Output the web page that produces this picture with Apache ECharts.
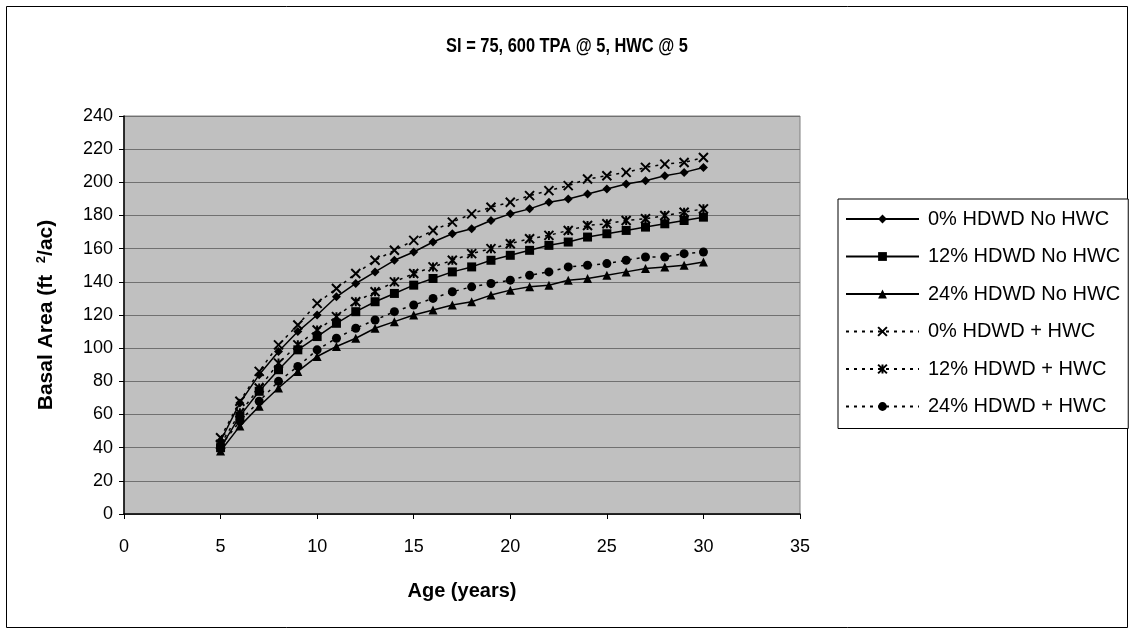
<!DOCTYPE html>
<html>
<head>
<meta charset="utf-8">
<script src="https://cdn.jsdelivr.net/npm/echarts@6/dist/echarts.min.js"></script>
<style>
  html, body { margin: 0; padding: 0; background: #fff; }
  #chart { width: 1135px; height: 635px; }
</style>
</head>
<body>
<div id="chart"></div>
<script>
// Stand age in years
const ages = [5, 6, 7, 8, 9, 10, 11, 12, 13, 14, 15, 16, 17, 18, 19, 20, 21, 22, 23, 24, 25, 26, 27, 28, 29, 30];

// Basal area (ft2/ac) for each hardwood / herbaceous weed control scenario
const hd0NoHwc  = [44, 67, 84, 98, 110, 120, 131, 139, 146, 153, 158, 164, 169, 172, 177, 181, 184, 188, 190, 193, 196, 199, 201, 204, 206, 209];
const hd12NoHwc = [40, 59, 74, 87, 99, 107, 115, 122, 128, 133, 138, 142, 146, 149, 153, 156, 159, 162, 164, 167, 169, 171, 173, 175, 177, 179];
const hd24NoHwc = [38, 53, 65, 76, 86, 95, 101, 106, 112, 116, 120, 123, 126, 128, 132, 135, 137, 138, 141, 142, 144, 146, 148, 149, 150, 152];
const hd0Hwc    = [46, 68, 86, 102, 114, 127, 136, 145, 153, 159, 165, 171, 176, 181, 185, 188, 192, 195, 198, 202, 204, 206, 209, 211, 212, 215];
const hd12Hwc   = [42, 61, 76, 91, 102, 111, 119, 128, 134, 140, 145, 149, 153, 157, 160, 163, 166, 168, 171, 174, 175, 177, 178, 180, 182, 184];
const hd24Hwc   = [41, 56, 68, 80, 89, 99, 106, 112, 117, 122, 126, 130, 134, 137, 139, 141, 144, 146, 149, 150, 151, 153, 155, 155, 157, 158];

const seriesNames = [
  '0% HDWD No HWC', '12% HDWD No HWC', '24% HDWD No HWC',
  '0% HDWD + HWC', '12% HDWD + HWC', '24% HDWD + HWC'
];

const titleText = 'SI = 75, 600 TPA @ 5, HWC @ 5';
const xTitle = 'Age (years)';

const FONT = '"Liberation Sans", Arial, sans-serif';

const crossPath = 'path://M0,0 L10,10 M10,0 L0,10';
const starPath = 'path://M0,0 L10,10 M10,0 L0,10 M5,0 L5,10';

function pairs(vals) {
  return ages.map((a, i) => [a, vals[i]]);
}

function makeSeries(name, vals, symbol, size, dashed, stroked) {
  return {
    name: name,
    type: 'line',
    data: pairs(vals),
    symbol: symbol,
    symbolSize: size,
    showSymbol: true,
    animation: false,
    lineStyle: dashed
      ? { color: '#000', width: 1.5, type: [3, 5] }
      : { color: '#000', width: 1.5, type: 'solid' },
    itemStyle: stroked
      ? { color: '#000', borderColor: '#000', borderWidth: 2 }
      : { color: '#000', borderColor: '#000', borderWidth: 0 },
    emphasis: { disabled: true }
  };
}

const chart = echarts.init(document.getElementById('chart'), null, { renderer: 'canvas' });

chart.setOption({
  backgroundColor: '#fff',
  animation: false,
  graphic: [
    {
      // outer chart frame
      type: 'rect',
      shape: { x: 6.5, y: 6.5, width: 1121, height: 621 },
      style: { fill: 'none', stroke: '#000', lineWidth: 1 },
      silent: true,
      z: -1
    },
    {
      // chart title, set in a narrow bold face
      type: 'text',
      x: 567,
      y: 46,
      scaleX: 0.82,
      silent: true,
      style: {
        x: 0,
        y: 0,
        text: titleText,
        fill: '#000',
        font: 'bold 20px "Liberation Sans", Arial, sans-serif',
        textAlign: 'center',
        textVerticalAlign: 'middle'
      }
    }
  ],
  grid: {
    left: 124,
    top: 116,
    width: 676,
    height: 398,
    show: true,
    backgroundColor: '#c0c0c0',
    borderColor: '#808080',
    borderWidth: 1
  },
  legend: {
    orient: 'vertical',
    left: 838,
    top: 199,
    padding: [10, 8, 12, 7],
    itemGap: 17.5,
    itemWidth: 73,
    itemHeight: 11,
    backgroundColor: '#fff',
    borderColor: '#000',
    borderWidth: 1,
    textStyle: { fontFamily: FONT, fontSize: 20, lineHeight: 20, color: '#000', padding: [0, 0, 0, 4] },
    data: seriesNames
  },
  xAxis: {
    type: 'value',
    min: 0,
    max: 35,
    interval: 5,
    name: xTitle,
    nameLocation: 'middle',
    nameGap: 67,
    nameTextStyle: { fontFamily: FONT, fontSize: 20, fontWeight: 'bold', color: '#000' },
    axisLine: { show: true, onZero: false, lineStyle: { color: '#000', width: 1.5 } },
    axisTick: { show: true, inside: false, length: 5, lineStyle: { color: '#000' } },
    axisLabel: { fontFamily: FONT, fontSize: 18, color: '#000', margin: 24 },
    splitLine: { show: false }
  },
  yAxis: {
    type: 'value',
    min: 0,
    max: 240,
    interval: 20,
    name: '{t|Basal Area (ft  }{s|2}{t|/ac)}',
    nameLocation: 'middle',
    nameGap: 66,
    nameRotate: 90,
    nameTextStyle: {
      fontFamily: FONT, fontSize: 22, fontWeight: 'bold', color: '#000',
      rich: {
        t: { fontFamily: FONT, fontSize: 21, fontWeight: 'bold', color: '#000' },
        s: { fontFamily: FONT, fontSize: 13, fontWeight: 'bold', color: '#000', verticalAlign: 'top', padding: [0, 0, 10, 0] }
      }
    },
    axisLine: { show: true, lineStyle: { color: '#000', width: 1.5 } },
    axisTick: { show: true, inside: false, length: 5, lineStyle: { color: '#000' } },
    axisLabel: { fontFamily: FONT, fontSize: 18, color: '#000', margin: 11 },
    splitLine: { show: true, lineStyle: { color: '#707070', width: 1 } }
  },
  series: [
    makeSeries(seriesNames[0], hd0NoHwc, 'diamond', 9, false, false),
    makeSeries(seriesNames[1], hd12NoHwc, 'rect', 9, false, false),
    makeSeries(seriesNames[2], hd24NoHwc, 'triangle', 9, false, false),
    makeSeries(seriesNames[3], hd0Hwc, crossPath, 9, true, true),
    makeSeries(seriesNames[4], hd12Hwc, starPath, 9, true, true),
    makeSeries(seriesNames[5], hd24Hwc, 'circle', 9, true, false)
  ]
});
</script>
</body>
</html>
